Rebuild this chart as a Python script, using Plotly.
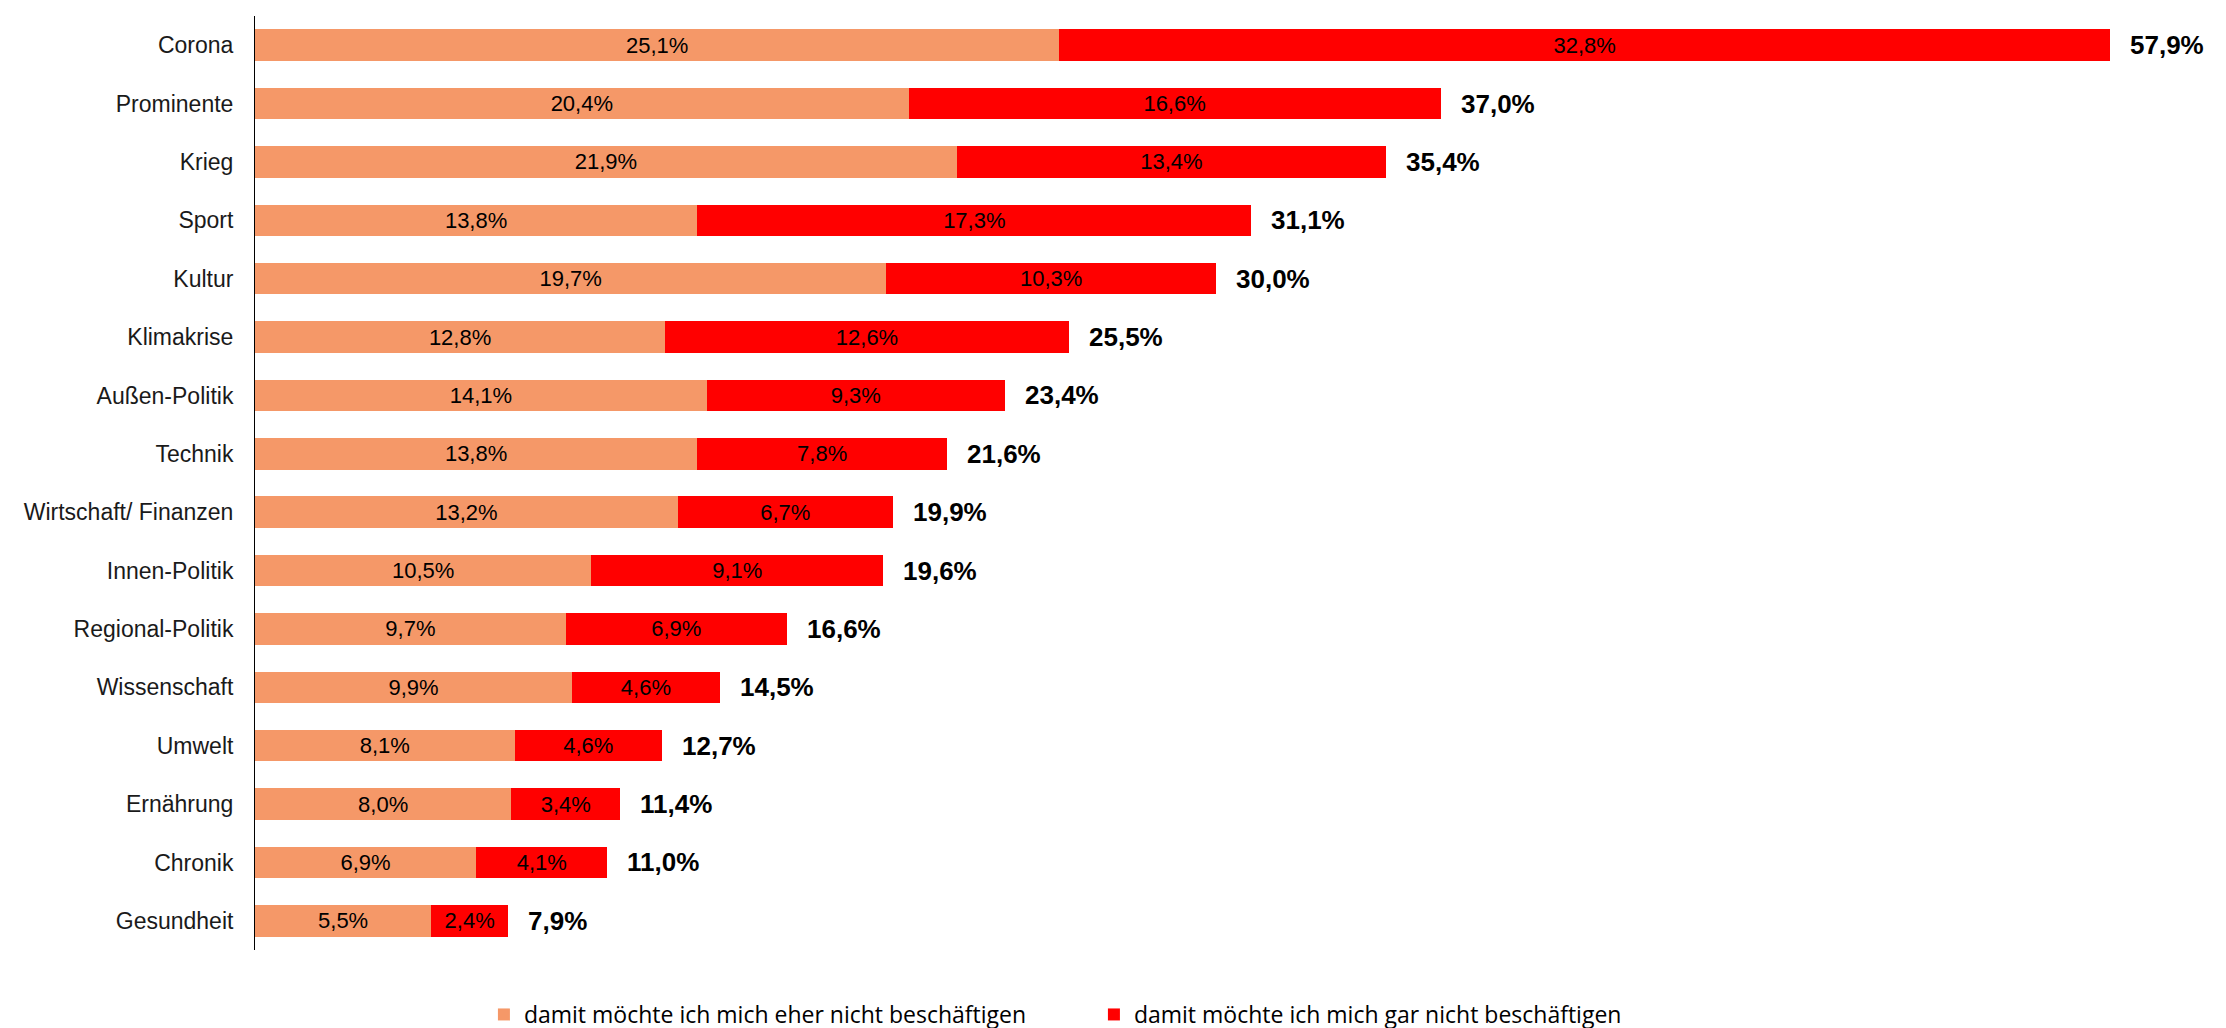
import plotly.graph_objects as go

categories = ["Corona", "Prominente", "Krieg", "Sport", "Kultur", "Klimakrise",
              "Außen-Politik", "Technik", "Wirtschaft/ Finanzen", "Innen-Politik",
              "Regional-Politik", "Wissenschaft", "Umwelt", "Ernährung", "Chronik", "Gesundheit"]
eher_nicht = [25.1, 20.4, 21.9, 13.8, 19.7, 12.8, 14.1, 13.8, 13.2, 10.5, 9.7, 9.9, 8.1, 8.0, 6.9, 5.5]
gar_nicht = [32.8, 16.6, 13.4, 17.3, 10.3, 12.6, 9.3, 7.8, 6.7, 9.1, 6.9, 4.6, 4.6, 3.4, 4.1, 2.4]
totals = [57.9, 37.0, 35.4, 31.1, 30.0, 25.5, 23.4, 21.6, 19.9, 19.6, 16.6, 14.5, 12.7, 11.4, 11.0, 7.9]
series_names = ["damit möchte ich mich eher nicht beschäftigen",
                "damit möchte ich mich gar nicht beschäftigen"]

ORANGE = "#F59868"
RED = "#FF0000"

fig = go.Figure()
for name, vals, col in [(series_names[0], eher_nicht, ORANGE), (series_names[1], gar_nicht, RED)]:
    fig.add_trace(go.Bar(
        y=categories, x=vals, name=name, orientation="h",
        marker=dict(color=col, line=dict(width=0)),
        texttemplate="%{x:.1f}%", textposition="inside", insidetextanchor="middle",
        textfont=dict(family="Liberation Sans, Arial", size=22, color="#000000"),
        constraintext="none", hoverinfo="skip",
    ))

for cat, a, b, t in zip(categories, eher_nicht, gar_nicht, totals):
    fig.add_annotation(
        x=a + b, y=cat, xref="x", yref="y",
        text="<b>" + f"{t:.1f}".replace(".", ",") + "%</b>",
        showarrow=False, xanchor="left", yanchor="middle", xshift=18,
        font=dict(family="Liberation Sans, Arial", size=26, color="#000000"),
    )

fig.update_layout(
    template="none",
    width=2226, height=1028,
    barmode="stack", bargap=0.46,
    separators=",.",
    plot_bgcolor="white", paper_bgcolor="white",
    margin=dict(l=247, r=20, t=8, b=86, autoexpand=False),
    xaxis=dict(range=[0, 61.14], visible=False, fixedrange=True, automargin=False),
    yaxis=dict(autorange="reversed", showline=True, linecolor="#000000", linewidth=1,
               ticks="", showgrid=False, zeroline=False, ticklabelstandoff=16, automargin=False,
               tickfont=dict(family="Liberation Sans, Arial", size=23, color="#1a1a1a")),
    legend=dict(orientation="h", xref="container", x=0.2138, xanchor="left",
                yref="container", y=0.0, yanchor="bottom",
                entrywidth=565, entrywidthmode="pixels",
                font=dict(family="Open Sans", size=23, color="#000000"),
                traceorder="normal", itemwidth=30, bgcolor="rgba(0,0,0,0)"),
    showlegend=True,
)

fig.write_html("out.html")
